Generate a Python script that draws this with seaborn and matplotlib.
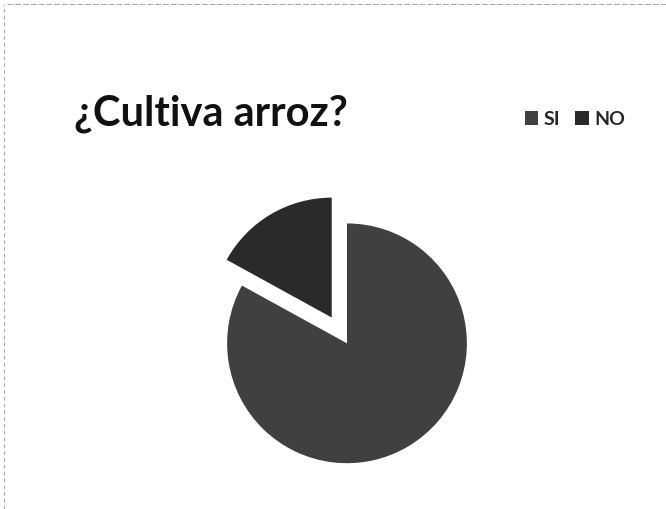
import matplotlib
matplotlib.use("Agg")
import matplotlib.pyplot as plt
from matplotlib.patches import Patch
import seaborn as sns

# Dane wykresu
labels = ["SI", "NO"]
values = [83, 17]
explode = [0.0, 0.25]
colors = ["#404040", "#2a2a2a"]

sns.set_theme(style="white")
plt.rcParams["font.family"] = ["Lato", "DejaVu Sans"]

fig = plt.figure(figsize=(6.66, 5.09), dpi=100)
fig.patch.set_facecolor("white")

ax = fig.add_axes([0.296, 0.031, 0.45, 0.589])
ax.pie(
    values,
    labels=None,
    colors=colors,
    explode=explode,
    startangle=90,
    counterclock=False,
    wedgeprops={"linewidth": 0},
)
ax.set_xlim(-1.25, 1.25)
ax.set_ylim(-1.25, 1.25)
ax.set_aspect("equal")
ax.axis("off")

fig.text(0.111, 0.754, "¿Cultiva arroz?", fontsize=30, fontweight="bold",
         color="#111111", ha="left", va="baseline")

handles = [Patch(facecolor=c, edgecolor="none", label=l) for l, c in zip(labels, colors)]
fig.legend(
    handles=handles,
    loc="center left",
    bbox_to_anchor=(0.788, 0.766),
    ncol=2,
    frameon=False,
    handlelength=0.7,
    handleheight=0.7,
    handletextpad=0.25,
    columnspacing=0.8,
    borderpad=0.0,
    borderaxespad=0.0,
    prop={"weight": "bold", "size": 14},
)

# Ślady ramki skanu (góra i lewa krawędź)
fig.add_artist(plt.Line2D([0.01, 1.0], [0.992, 0.992], color="#a8a8a8",
                          linewidth=0.7, linestyle=(0, (6, 2)), transform=fig.transFigure))
fig.add_artist(plt.Line2D([0.006, 0.006], [0.0, 0.992], color="#a8a8a8",
                          linewidth=0.7, linestyle=(0, (4, 3)), transform=fig.transFigure))

fig.savefig("out.png", dpi=100)
plt.close(fig)
